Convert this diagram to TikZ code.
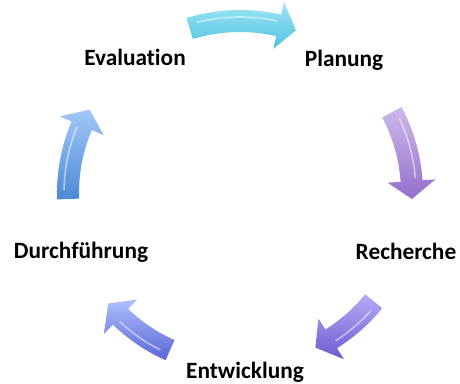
\documentclass[tikz,border=0pt]{standalone}
\usepackage{fontspec}
\setmainfont{Carlito}[Ligatures=NoCommon]
\usepackage{tikz}
\definecolor{planTop}{HTML}{9EE6F4}
\definecolor{planBot}{HTML}{4FC2DF}
\definecolor{rechTop}{HTML}{CDB9EC}
\definecolor{rechBot}{HTML}{946FCB}
\definecolor{entwTop}{HTML}{B4ACF6}
\definecolor{entwBot}{HTML}{6B5ACF}
\definecolor{durchTop}{HTML}{AEBEFB}
\definecolor{durchBot}{HTML}{5867D5}
\definecolor{evalTop}{HTML}{A2C8F6}
\definecolor{evalBot}{HTML}{4C8AD6}
\tikzstyle{stage} = [font=\bfseries\fontsize{17.5}{20}\selectfont, anchor=base, inner sep=0pt, text=black]
% block arrow on the circle: start angle, end angle, light colour, dark colour
\newcommand{\cyclearrow}[4]{%
  \pgfmathsetmacro{\headang}{#2+6}
  \pgfmathsetmacro{\hlstart}{#1-3}
  \pgfmathsetmacro{\hlend}{\headang+1}
  \shade[top color=#3, bottom color=#4]
    (#1:137.25pt) arc[start angle=#1, end angle=\headang, radius=137.25pt]
    -- (\headang:147pt) -- (#2:129pt) -- (\headang:111pt)
    -- (\headang:120.75pt) arc[start angle=\headang, end angle=#1, radius=120.75pt] -- cycle;
  \draw[white, opacity=0.5, line width=1.2pt, line cap=round]
    (\hlstart:132pt) arc[start angle=\hlstart, end angle=\hlend, radius=132pt];
}

\begin{document}
\begin{tikzpicture}[x=0.75pt, y=0.75pt]
	\useasboundingbox (0,0) rectangle (460,383);
	%\node(name)[stage]{text}
	\node(plan)[stage] at (344,316){Planung};
	\node(rech)[stage] at (406,124){Recherche};
	\node(entw)[stage] at (245,5){Entwicklung};
	\node(durch)[stage] at (81,125){Durchführung};
	\node(eval)[stage] at (135,318){Evaluation};

	%arrows
	\begin{scope}[shift={(240,190)}]
		\cyclearrow{107}{71}{planTop}{planBot}
		\cyclearrow{28}{-2}{rechTop}{rechBot}
		\cyclearrow{-39}{-64}{entwTop}{entwBot}
		\cyclearrow{-114}{-140}{durchTop}{durchBot}
		\cyclearrow{182}{151}{evalTop}{evalBot}
	\end{scope}
\end{tikzpicture}
\end{document}
